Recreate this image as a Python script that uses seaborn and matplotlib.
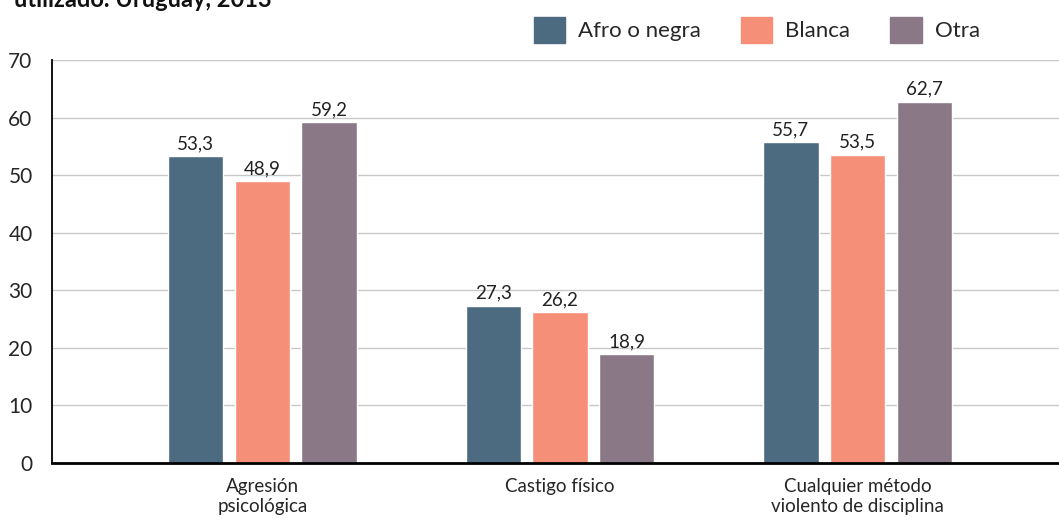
import pandas as pd
import matplotlib.pyplot as plt
import seaborn as sns

categories = ['Agresión\npsicológica', 'Castigo físico', 'Cualquier método\nviolento de disciplina']
groups = ['Afro o negra', 'Blanca', 'Otra']
afro = [53.3, 27.3, 55.7]
blanca = [48.9, 26.2, 53.5]
otra = [59.2, 18.9, 62.7]
colors = ['#4C6A80', '#F68F78', '#8A7887']

rows = []
for g, vals in zip(groups, [afro, blanca, otra]):
    for c, v in zip(categories, vals):
        rows.append({'categoria': c, 'grupo': g, 'valor': v})
df = pd.DataFrame(rows)

sns.set_style('white')
plt.rcParams['font.family'] = ['Lato', 'DejaVu Sans']

fig = plt.figure(figsize=(10.59, 5.21), dpi=100)
ax = fig.add_axes([52 / 1059, 58 / 521, 1 - 52 / 1059, 403 / 521])

sns.barplot(data=df, x='categoria', y='valor', hue='grupo', palette=colors,
            width=0.672, gap=0.17, ax=ax, legend=False, saturation=1)

for cont in ax.containers:
    ax.bar_label(cont, labels=[f'{v:.1f}'.replace('.', ',') for v in cont.datavalues],
                 padding=3, fontsize=13.5, color='#222222')

ax.set_ylim(0, 70)
ax.set_xlim(-0.707, 2.677)
ax.set_yticks(range(0, 71, 10))
ax.yaxis.grid(True, color='#c8c8c8', linewidth=1)
ax.set_axisbelow(True)
ax.set_xlabel('')
ax.set_ylabel('')
ax.tick_params(axis='y', length=0, labelsize=15, pad=14)
ax.tick_params(axis='x', length=0, labelsize=13.5, pad=11)
for s in ['top', 'right']:
    ax.spines[s].set_visible(False)
ax.spines['left'].set_color('black')
ax.spines['left'].set_linewidth(1.3)
ax.spines['bottom'].set_color('black')
ax.spines['bottom'].set_linewidth(2)

handles = [plt.Rectangle((0, 0), 1, 1, color=c) for c in colors]
fig.legend(handles, groups, loc='center right', bbox_to_anchor=(1000 / 1059, 1 - 30 / 521),
           ncol=3, frameon=False, fontsize=16, handlelength=1.4, handleheight=1.4,
           handletextpad=0.6, columnspacing=1.8)

fig.text(14 / 1059, 1 - 7 / 521, 'utilizado. Uruguay, 2013', fontsize=17,
         fontweight='bold', va='baseline', ha='left', color='#111111')

fig.savefig('out.png', dpi=100)
